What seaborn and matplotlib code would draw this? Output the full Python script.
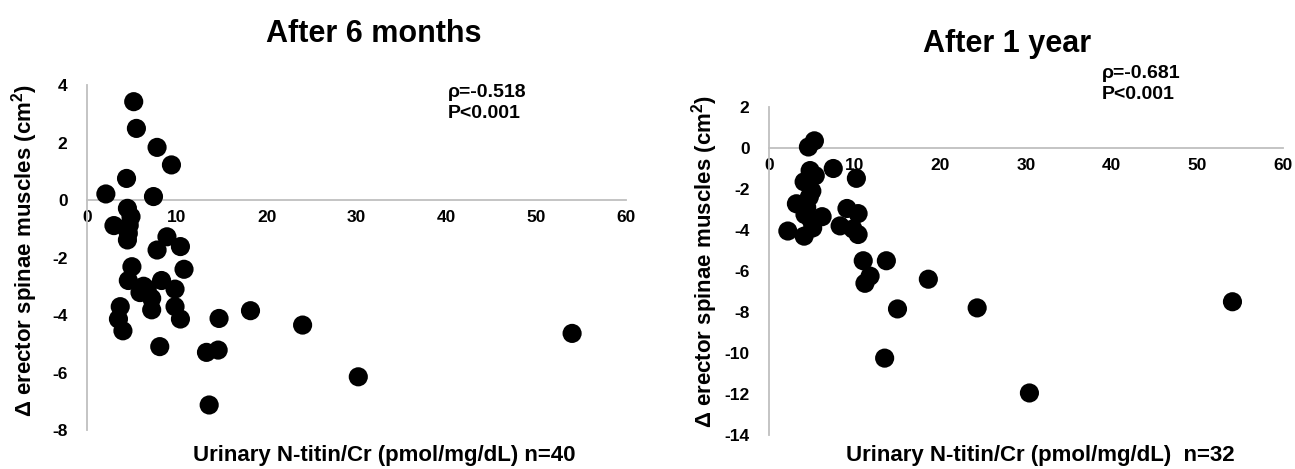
import matplotlib
matplotlib.use("Agg")
import matplotlib.pyplot as plt
import seaborn as sns
import pandas as pd

# ---- data: After 6 months (n=40) ----
titin_6m = [5.2, 5.5, 7.8, 9.4, 4.4, 2.1, 7.4, 4.5, 4.9, 3.0,
            4.7, 4.6, 4.5, 8.9, 10.4, 7.8, 10.8, 5.0, 4.6, 6.3,
            5.9, 7.2, 7.2, 8.3, 9.8, 9.8, 10.4, 3.7, 3.5, 4.0,
            8.1, 13.3, 14.6, 14.7, 18.2, 24.0, 13.6, 30.2, 54.0, 6.7]
delta_6m = [3.42, 2.49, 1.83, 1.22, 0.75, 0.21, 0.12, -0.29, -0.58, -0.89,
            -0.88, -1.16, -1.39, -1.28, -1.62, -1.74, -2.41, -2.32, -2.80, -3.00,
            -3.22, -3.42, -3.82, -2.80, -3.10, -3.71, -4.14, -3.71, -4.14, -4.55,
            -5.10, -5.30, -5.22, -4.12, -3.85, -4.35, -7.13, -6.15, -4.64, -3.10]

# ---- data: After 1 year (n=32) ----
titin_1y = [5.3, 4.6, 7.5, 10.2, 4.8, 5.4, 4.1, 5.0, 3.2, 4.4,
            4.2, 6.2, 4.9, 2.2, 4.1, 5.1, 8.3, 9.1, 10.4, 10.4,
            9.8, 11.0, 13.7, 11.8, 11.2, 18.6, 15.0, 13.5, 24.3, 30.4,
            54.1, 4.7]
delta_1y = [0.35, 0.05, -1.00, -1.48, -1.10, -1.35, -1.65, -2.10, -2.72, -2.90,
            -3.25, -3.35, -3.50, -4.05, -4.30, -3.90, -3.80, -2.95, -3.20, -4.22,
            -3.95, -5.50, -5.50, -6.25, -6.60, -6.40, -7.85, -10.25, -7.80, -11.95,
            -7.50, -2.40]

titles = ["After 6 months", "After 1 year"]
stats = ["\u03c1=-0.518\nP<0.001", "\u03c1=-0.681\nP<0.001"]
xlabels = ["Urinary N-titin/Cr (pmol/mg/dL) n=40", "Urinary N-titin/Cr (pmol/mg/dL)  n=32"]
ylabel = "\u0394 erector spinae muscles (cm$^{2}$)"
xticks = [0, 10, 20, 30, 40, 50, 60]
yticks_6m = [-8, -6, -4, -2, 0, 2, 4]
yticks_1y = [-14, -12, -10, -8, -6, -4, -2, 0, 2]

sns.set_theme(style="white")
plt.rcParams['font.family'] = ['Liberation Sans', 'DejaVu Sans']
plt.rcParams['axes.unicode_minus'] = False
plt.rcParams['text.color'] = 'black'
plt.rcParams['mathtext.fontset'] = 'custom'
plt.rcParams['mathtext.rm'] = 'Liberation Sans:bold'
plt.rcParams['mathtext.it'] = 'Liberation Sans:bold'
plt.rcParams['mathtext.bf'] = 'Liberation Sans:bold'

fig = plt.figure(figsize=(12.95, 4.69), dpi=100)
ax1 = fig.add_axes([87/1295, 1-430/469, 539/1295, 345/469])
ax2 = fig.add_axes([769/1295, 1-435/469, 514/1295, 328/469])

df1 = pd.DataFrame({"x": titin_6m, "y": delta_6m})
df2 = pd.DataFrame({"x": titin_1y, "y": delta_1y})

configs = [
    (ax1, df1, yticks_6m, (-8, 4)),
    (ax2, df2, yticks_1y, (-14, 2)),
]
for ax, df, yt, yl in configs:
    sns.scatterplot(data=df, x="x", y="y", ax=ax, color="black", s=190,
                    edgecolor="none", linewidth=0, clip_on=False, zorder=3)
    ax.set_xlim(0, 60)
    ax.set_ylim(*yl)
    ax.set_xticks(xticks)
    ax.set_yticks(yt)
    ax.spines['top'].set_visible(False)
    ax.spines['right'].set_visible(False)
    ax.spines['bottom'].set_position(('data', 0))
    for sp in ('left', 'bottom'):
        ax.spines[sp].set_color('#bfbfbf')
        ax.spines[sp].set_linewidth(1.3)
        ax.spines[sp].set_zorder(1)
    ax.tick_params(axis='both', length=0, labelsize=12.5, labelcolor='black')
    ax.tick_params(axis='x', pad=7)
    ax.tick_params(axis='y', pad=14)
    for lab in ax.get_xticklabels() + ax.get_yticklabels():
        lab.set_fontweight('bold')
    ax.set_xlabel("")
    ax.set_ylabel("")
    ax.patch.set_alpha(0)

# titles
fig.text(374/1295, 1-42/469, titles[0], ha='center', va='baseline', fontsize=22, fontweight='bold')
fig.text(1007/1295, 1-52/469, titles[1], ha='center', va='baseline', fontsize=22, fontweight='bold')
# stats
fig.text(448/1295, 1-84/469, stats[0], ha='left', va='top', fontsize=14, fontweight='bold', linespacing=1.3)
fig.text(1102/1295, 1-65/469, stats[1], ha='left', va='top', fontsize=14, fontweight='bold', linespacing=1.3)
# y labels
fig.text(25/1295, 1-251/469, ylabel, rotation=90, ha='center', va='center', fontsize=16, fontweight='bold')
fig.text(705/1295, 1-262/469, ylabel, rotation=90, ha='center', va='center', fontsize=16, fontweight='bold')
# x labels
fig.text(384/1295, 1-455/469, xlabels[0], ha='center', va='center', fontsize=16, fontweight='bold')
fig.text(1040/1295, 1-455/469, xlabels[1], ha='center', va='center', fontsize=16, fontweight='bold')

fig.savefig("out.png", dpi=100, facecolor='white')
